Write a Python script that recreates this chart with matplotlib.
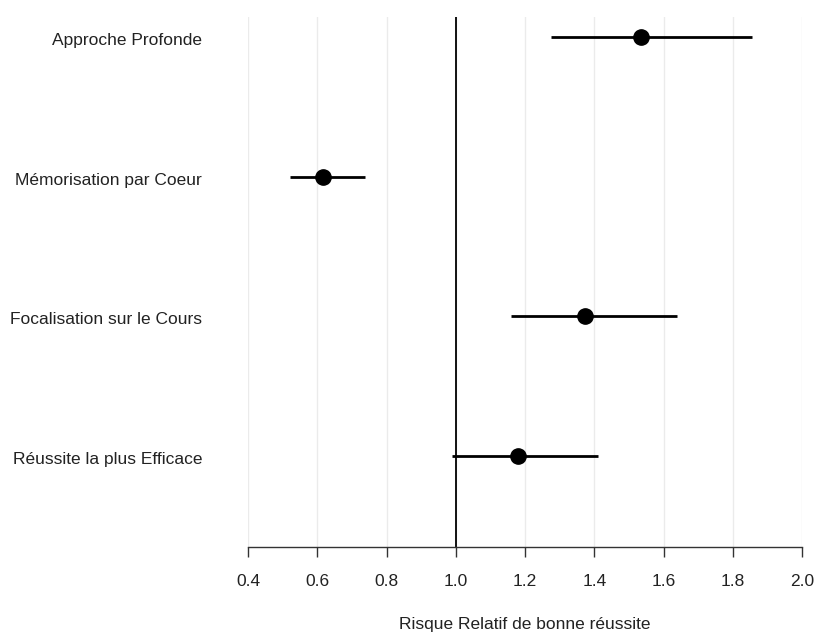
import matplotlib
matplotlib.use("Agg")
import matplotlib.pyplot as plt
import matplotlib.transforms as mtransforms

categories = ["Approche Profonde", "Mémorisation par Coeur",
              "Focalisation sur le Cours", "Réussite la plus Efficace"]
rr = [1.535, 0.617, 1.373, 1.180]
ci_low = [1.275, 0.521, 1.160, 0.990]
ci_high = [1.856, 0.738, 1.639, 1.411]
xticks = [0.4, 0.6, 0.8, 1.0, 1.2, 1.4, 1.6, 1.8, 2.0]

plt.rcParams['font.family'] = ['Liberation Sans', 'DejaVu Sans']

fig = plt.figure(figsize=(8.15, 6.32), dpi=100)
ax = fig.add_axes([248/815, 85/632, (802-248)/815, (547-17)/632])

ypos = [4, 3, 2, 1]
ax.set_xlim(0.4, 2.0)
ax.set_ylim(0.348, 4.143)

for x in xticks:
    ax.axvline(x, color='#ebebeb', lw=1.0, zorder=0)
ax.axvline(1.0, color='black', lw=1.3, zorder=1)

for y, m, lo, hi in zip(ypos, rr, ci_low, ci_high):
    ax.plot([lo, hi], [y, y], color='black', lw=2, solid_capstyle='butt', zorder=2)
    ax.plot([m], [y], 'o', color='black', markersize=11, zorder=3)

for s in ['top', 'right', 'left']:
    ax.spines[s].set_visible(False)
ax.spines['bottom'].set_color('#333333')
ax.spines['bottom'].set_linewidth(1.0)

ax.set_xticks(xticks)
ax.set_xticklabels([f"{v:.1f}" for v in xticks])
ax.tick_params(axis='x', length=7.5, width=1.0, color='#333333',
               labelsize=12.5, labelcolor='#222222', pad=12)
ax.set_yticks(ypos)
ax.set_yticklabels(categories)
ax.tick_params(axis='y', length=0, labelsize=12.5, labelcolor='#222222', pad=33)
offset = mtransforms.ScaledTranslation(0, -2/100, fig.dpi_scale_trans)
for lab in ax.get_yticklabels():
    lab.set_transform(lab.get_transform() + offset)
ax.set_xlabel("Risque Relatif de bonne réussite", fontsize=12.5, color='#222222', labelpad=20)

fig.savefig("out.png", dpi=100, facecolor='white')
